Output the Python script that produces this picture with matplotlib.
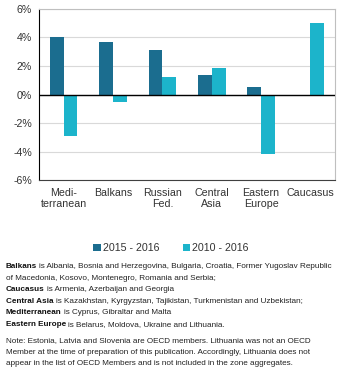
import numpy as np
import matplotlib
matplotlib.use("Agg")
import matplotlib.pyplot as plt

plt.rcParams['font.family'] = ['Liberation Sans', 'DejaVu Sans']

# ── data ──────────────────────────────────────
regions = ["Medi-\nterranean", "Balkans", "Russian\nFed.", "Central\nAsia",
           "Eastern\nEurope", "Caucasus"]
growth_2015_2016 = [4.0, 3.7, 3.15, 1.35, 0.55, -0.1]
growth_2010_2016 = [-2.9, -0.55, 1.2, 1.85, -4.2, 5.05]
series_labels = ["2015 - 2016", "2010 - 2016"]
y_ticks = [-6, -4, -2, 0, 2, 4, 6]

notes = [
    ("Balkans", "is Albania, Bosnia and Herzegovina, Bulgaria, Croatia, Former Yugoslav Republic"),
    ("", "of Macedonia, Kosovo, Montenegro, Romania and Serbia;"),
    ("Caucasus", "is Armenia, Azerbaijan and Georgia"),
    ("Central Asia", "is Kazakhstan, Kyrgyzstan, Tajikistan, Turkmenistan and Uzbekistan;"),
    ("Mediterranean", "is Cyprus, Gibraltar and Malta"),
    ("Eastern Europe", "is Belarus, Moldova, Ukraine and Lithuania."),
]
footnote = [
    "Note: Estonia, Latvia and Slovenia are OECD members. Lithuania was not an OECD",
    "Member at the time of preparation of this publication. Accordingly, Lithuania does not",
    "appear in the list of OECD Members and is not included in the zone aggregates.",
]

DARK = "#1b6d8f"
LIGHT = "#1cb4cb"
TXT = "#333333"

fig = plt.figure(figsize=(3.42, 3.73), dpi=100)
ax = fig.add_axes([0.114, 0.517, 0.866, 0.459])

x = np.arange(len(regions))
w = 0.28
ax.bar(x - w / 2, growth_2015_2016, width=w, color=DARK, label=series_labels[0], zorder=3)
ax.bar(x + w / 2, growth_2010_2016, width=w, color=LIGHT, label=series_labels[1], zorder=3)
ax.axhline(0, color="black", linewidth=1.0, zorder=4)

ax.set_xlim(-0.5, len(regions) - 0.5)
ax.set_ylim(-6, 6)
ax.set_yticks(y_ticks)
ax.set_yticklabels([f"{t}%" for t in y_ticks])
ax.set_xticks(x)
ax.set_xticklabels(regions, linespacing=1.1)
ax.tick_params(axis="x", length=0, pad=6, labelsize=7.7, colors=TXT)
ax.tick_params(axis="y", length=0, pad=5, labelsize=7.7, colors=TXT)
ax.yaxis.grid(True, color="#d9d9d9", linewidth=0.8, zorder=0)

for side in ["top", "right"]:
    ax.spines[side].set_color("#bfbfbf")
ax.spines["left"].set_color("black")
ax.spines["bottom"].set_color("#404040")

fig.legend(loc="center", bbox_to_anchor=(0.5, 1 - 248 / 373), ncol=2,
           frameon=False, fontsize=7.7, handlelength=0.7, handleheight=0.7,
           handletextpad=0.2, columnspacing=2.2, labelcolor=TXT)

# ── notes under the chart ─────────────────────
fs = 5.85
x0 = 6 / 342
gap = 2.0 / 342
renderer = fig.canvas.get_renderer()
for i, (head, rest) in enumerate(notes):
    y = 1 - (268 + i * 11.6) / 373
    xr = x0
    if head:
        t = fig.text(x0, y, head, fontsize=fs, fontweight="bold",
                     ha="left", va="baseline", color="#111111")
        bb = t.get_window_extent(renderer).transformed(fig.transFigure.inverted())
        xr = bb.x1 + gap
    fig.text(xr, y, rest, fontsize=fs, ha="left", va="baseline", color="#222222")

for i, line in enumerate(footnote):
    y = 1 - (342 + i * 11.5) / 373
    fig.text(x0, y, line, fontsize=fs, ha="left", va="baseline", color="#222222")

fig.savefig("out.png", dpi=100)
